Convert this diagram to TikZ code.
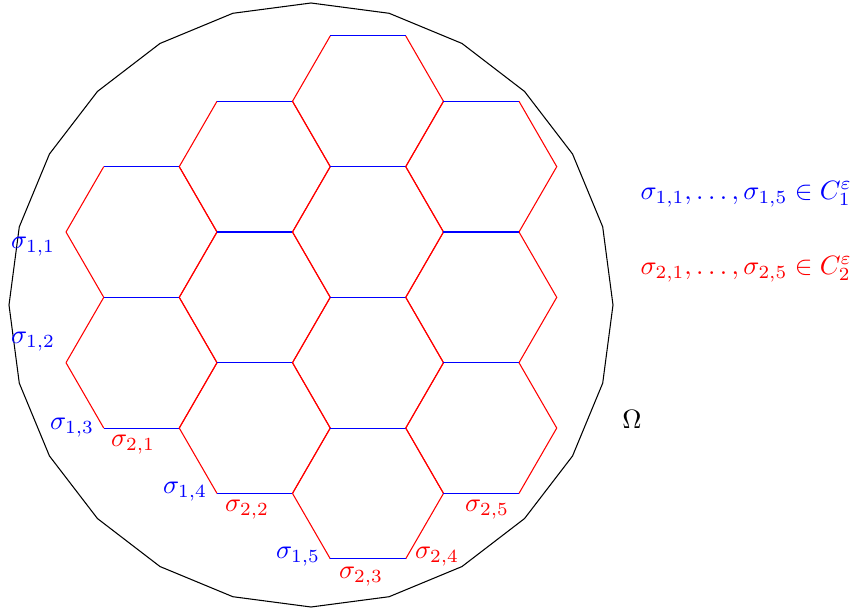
\documentclass[tikz,border=0pt]{standalone}
\begin{document}
\begin{tikzpicture}[x=0.3768pt,y=-0.3768pt,
  hexflat/.style={blue,line width=0.4pt},
  hexslant/.style={red,line width=0.4pt},
  lab/.style={inner sep=0pt},
  legend/.style={inner sep=0pt,anchor=west}]
\useasboundingbox (0,0) rectangle (854,610);
% domain Omega (24-gon)
\draw[black,line width=0.4pt,shift={(311,305)}] (0:302)
  \foreach \a in {15,30,...,345} { -- (\a:302) } -- cycle;
% hexagons
\def\s{75.5}
\def\hh{65.35}
\foreach \cx/\k in {141.5/2,141.5/4,254.75/1,254.75/3,254.75/5,368/0,368/2,368/4,368/6,481.25/1,481.25/3,481.25/5}{
  \pgfmathsetmacro{\cy}{101.3+\k*\hh}
  \pgfmathsetmacro{\xl}{\cx-\s}
  \pgfmathsetmacro{\xr}{\cx+\s}
  \pgfmathsetmacro{\xa}{\cx-\s/2}
  \pgfmathsetmacro{\xb}{\cx+\s/2}
  \pgfmathsetmacro{\yt}{\cy-\hh}
  \pgfmathsetmacro{\yb}{\cy+\hh}
  \draw[hexslant] (\xl,\cy) -- (\xa,\yt);
  \draw[hexslant] (\xb,\yt) -- (\xr,\cy) -- (\xb,\yb);
  \draw[hexslant] (\xa,\yb) -- (\xl,\cy);
  \draw[hexflat] (\xa,\yt) -- (\xb,\yt);
  \draw[hexflat] (\xa,\yb) -- (\xb,\yb);
}
% labels
\node[lab,blue] (s11) at (33,247) {$\sigma_{1,1}$};
\node[lab,blue] (s12) at (33,342) {$\sigma_{1,2}$};
\node[lab,blue] (s13) at (72,428) {$\sigma_{1,3}$};
\node[lab,blue] (s14) at (185,492) {$\sigma_{1,4}$};
\node[lab,blue] (s15) at (298,557) {$\sigma_{1,5}$};
\node[lab,red] (s21) at (133,445) {$\sigma_{2,1}$};
\node[lab,red] (s22) at (247,510) {$\sigma_{2,2}$};
\node[lab,red] (s23) at (361,577) {$\sigma_{2,3}$};
\node[lab,red] (s24) at (437,557) {$\sigma_{2,4}$};
\node[lab,red] (s25) at (487,510) {$\sigma_{2,5}$};
\node[lab] (om) at (632,419) {$\Omega$};
\node[legend,blue] (l1) at (640,194) {$\sigma_{1,1},\ldots,\sigma_{1,5}\in C_1^\varepsilon$};
\node[legend,red] (l2) at (640,269) {$\sigma_{2,1},\ldots,\sigma_{2,5}\in C_2^\varepsilon$};
\end{tikzpicture}
\end{document}
